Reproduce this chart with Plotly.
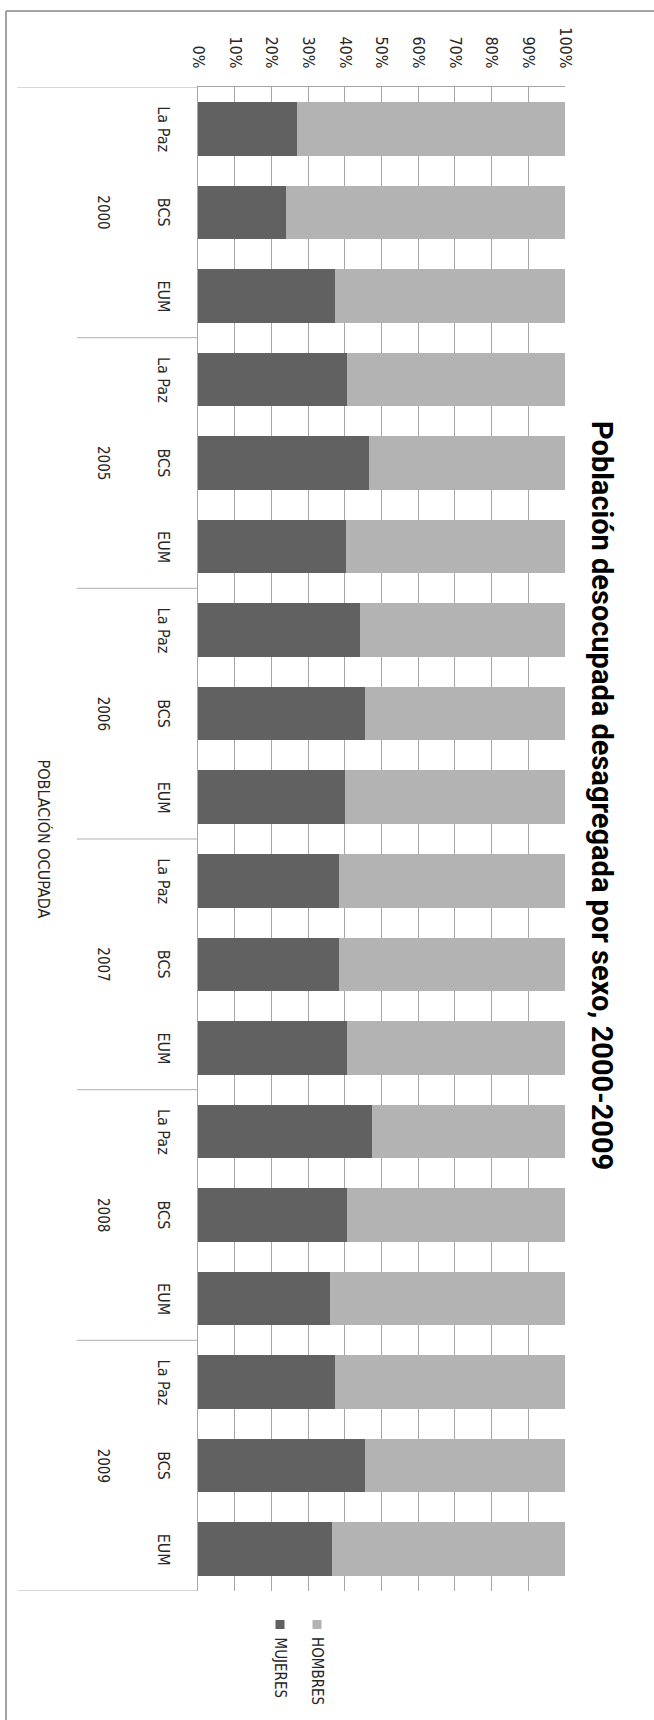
import plotly.graph_objects as go

# ---------------- data ----------------
years = ["2000", "2005", "2006", "2007", "2008", "2009"]
regiones = ["La Paz", "BCS", "EUM"]
mujeres = [27.0, 24.1, 37.2,
           40.6, 46.6, 40.3,
           44.1, 45.5, 40.1,
           38.4, 38.4, 40.6,
           47.3, 40.6, 36.1,
           37.2, 45.5, 36.6]
hombres = [73.0, 75.9, 62.8,
           59.4, 53.4, 59.7,
           55.9, 54.5, 59.9,
           61.6, 61.6, 59.4,
           52.7, 59.4, 63.9,
           62.8, 54.5, 63.4]
pct_ticks = [0, 10, 20, 30, 40, 50, 60, 70, 80, 90, 100]
pct_labels = [f"{v}%" for v in pct_ticks]
title_text = "Población desocupada desagregada por sexo, 2000-2009"
axis_title = "POBLACIÓN OCUPADA"

# ---------------- layout constants ----------------
W, H = 654, 1720
L, R, T, B = 198, 89, 87, 129
pw = W - L - R
ph = H - T - B
FONT = "Liberation Sans Narrow, DejaVu Sans Condensed, Arial Narrow, sans-serif"
TFONT = "Roboto, DejaVu Sans Condensed, sans-serif"
DARK = "#616161"
LIGHT = "#b3b3b3"
GRID = "#a6a6a6"
TXT = "#262626"

def px_x(p):  # pixel -> paper x
    return (p - L) / pw

def px_y(p):  # pixel -> paper y
    return (H - B - p) / ph

n = len(years) * len(regiones)
pos = list(range(n))

fig = go.Figure()
fig.add_trace(go.Bar(y=pos, x=mujeres, orientation="h", name="MUJERES",
                     marker=dict(color=DARK, line=dict(width=0))))
fig.add_trace(go.Bar(y=pos, x=hombres, orientation="h", name="HOMBRES",
                     marker=dict(color=LIGHT, line=dict(width=0))))

annotations = []
shapes = []

# state labels
for i in pos:
    annotations.append(dict(x=px_x(163.5), y=i, xref="paper", yref="y",
                            text=regiones[i % 3], textangle=90, showarrow=False,
                            xanchor="center", yanchor="middle",
                            font=dict(family=FONT, size=16, color=TXT)))
# year labels
for g, yr in enumerate(years):
    annotations.append(dict(x=px_x(103), y=g * 3 + 1, xref="paper", yref="y",
                            text=yr, textangle=90, showarrow=False,
                            xanchor="center", yanchor="middle",
                            font=dict(family=FONT, size=15, color=TXT)))
# group separators
for g in range(len(years) + 1):
    x0 = px_x(17.5) if g in (0, len(years)) else px_x(77)
    shapes.append(dict(type="line", xref="paper", yref="y",
                       x0=x0, x1=0, y0=g * 3 - 0.5, y1=g * 3 - 0.5,
                       line=dict(color="#b0b0b0", width=1)))

# axis title
annotations.append(dict(x=px_x(43.5), y=8.5, xref="paper", yref="y",
                        text=axis_title, textangle=90, showarrow=False,
                        xanchor="center", yanchor="middle",
                        font=dict(family=FONT, size=16, color=TXT)))
# chart title
annotations.append(dict(x=px_x(602), y=px_y(795), xref="paper", yref="paper",
                        text="<b>" + title_text + "</b>", textangle=90, showarrow=False,
                        xanchor="center", yanchor="middle",
                        font=dict(family=TFONT, size=29, color="#000000")))

# legend (manual, rotated)
leg = [("HOMBRES", LIGHT, 317), ("MUJERES", DARK, 280)]
for name, col, cx in leg:
    shapes.append(dict(type="rect", xref="paper", yref="paper",
                       x0=px_x(cx - 4.5), x1=px_x(cx + 4.5),
                       y0=px_y(1620), y1=px_y(1629),
                       fillcolor=col, line=dict(width=0)))
    annotations.append(dict(x=px_x(cx), y=px_y(1635), xref="paper", yref="paper",
                            text=name, textangle=90, showarrow=False,
                            xanchor="center", yanchor="top",
                            font=dict(family=FONT, size=15, color=TXT)))

# outer chart border (left and top)
shapes.append(dict(type="line", xref="paper", yref="paper",
                   x0=px_x(6), x1=px_x(6), y0=px_y(11), y1=px_y(1725),
                   line=dict(color="#868686", width=1.5)))
shapes.append(dict(type="line", xref="paper", yref="paper",
                   x0=px_x(6), x1=px_x(660), y0=px_y(11), y1=px_y(11),
                   line=dict(color="#868686", width=1.5)))

fig.update_layout(
    width=W, height=H, autosize=False,
    margin=dict(l=L, r=R, t=T, b=B, pad=0),
    barmode="stack", bargap=0.36,
    plot_bgcolor="white", paper_bgcolor="white",
    showlegend=False,
    annotations=annotations, shapes=shapes,
    xaxis=dict(range=[0, 100], side="top", tickmode="array",
               tickvals=pct_ticks, ticktext=pct_labels, tickangle=90,
               showgrid=True, gridcolor=GRID, gridwidth=1,
               showline=True, linecolor=GRID, linewidth=1,
               zeroline=False, ticks="", ticklabelstandoff=12,
               tickfont=dict(family=FONT, size=16, color=TXT)),
    yaxis=dict(range=[n - 0.5, -0.5], showticklabels=False, showgrid=False,
               zeroline=False, showline=True, linecolor=GRID, linewidth=1,
               ticks=""),
)

fig.write_html("out.html",
               config={"displayModeBar": False},
               post_script="document.body.style.margin='0px';document.body.style.padding='0px';")
